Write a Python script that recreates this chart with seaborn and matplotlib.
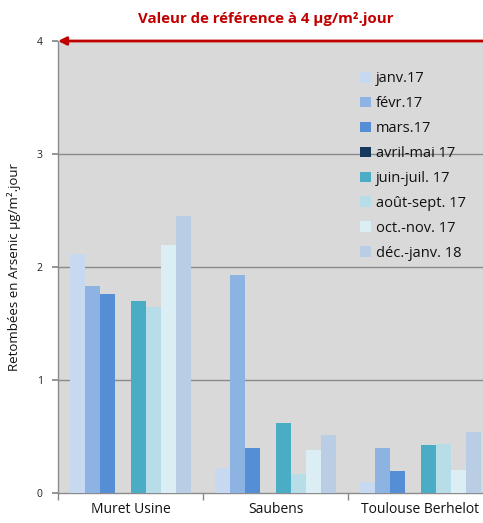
import matplotlib
matplotlib.use("Agg")
import matplotlib.pyplot as plt
import matplotlib.patches as mpatches
import pandas as pd
import seaborn as sns

# Sampling sites and campaign periods
sites = ["Muret Usine", "Saubens", "Toulouse Berhelot"]
periods = ["janv.17", "févr.17", "mars.17", "avril-mai 17", "juin-juil. 17",
           "août-sept. 17", "oct.-nov. 17", "déc.-janv. 18"]
colors = ["#c6d9f1", "#8db3e2", "#558ed5", "#17375e", "#4bacc6",
          "#b7dee8", "#dbeef4", "#b9cde5"]

# Arsenic deposition (µg/m².jour), one list per site, in period order
muret = [2.12, 1.83, 1.76, 0.0, 1.70, 1.65, 2.20, 2.45]
saubens = [0.22, 1.93, 0.40, 0.0, 0.62, 0.17, 0.38, 0.52]
toulouse = [0.10, 0.40, 0.20, 0.0, 0.43, 0.44, 0.21, 0.54]

reference_value = 4

rows = []
for site, vals in zip(sites, [muret, saubens, toulouse]):
    for period, v in zip(periods, vals):
        rows.append({"site": site, "period": period, "value": v})
df = pd.DataFrame(rows)

sns.set_theme(style="white")
plt.rcParams["font.family"] = ["Open Sans", "DejaVu Sans"]

fig = plt.figure(figsize=(4.83, 5.23), dpi=100)
ax = fig.add_axes([58 / 483, 29.7 / 523, 435 / 483, 452.3 / 523])
ax.set_facecolor("#d9d9d9")

sns.barplot(data=df, x="site", y="value", hue="period", order=sites,
            hue_order=periods, palette=colors, width=0.83, saturation=1,
            linewidth=0, errorbar=None, legend=False, ax=ax, zorder=3)

ax.set_xlim(-0.5, 2.5)
ax.set_ylim(0, 4)
ax.set_yticks([0, 1, 2, 3, 4])
ax.set_yticklabels(["0", "1", "2", "3", "4"], fontsize=7.5, color="#222222")
ax.tick_params(axis="y", length=4, color="#888888", pad=7, left=True)
for y in [1, 2, 3]:
    ax.axhline(y, color="#8a8a8a", linewidth=1, zorder=1)

ax.set_xticks([0, 1, 2])
ax.set_xticklabels(sites, fontsize=10, color="#111111")
ax.tick_params(axis="x", length=0, pad=6)
ax.set_xticks([-0.5, 0.5, 1.5, 2.5], minor=True)
ax.tick_params(axis="x", which="minor", length=5, color="#888888", bottom=True)
ax.set_xlabel("")
ax.set_ylabel("Retombées en Arsenic µg/m².jour", fontsize=9.5, color="#111111",
              labelpad=11)

for side in ["top", "right"]:
    ax.spines[side].set_visible(False)
for side in ["left", "bottom"]:
    ax.spines[side].set_color("#8c8c8c")
    ax.spines[side].set_linewidth(1)

# Reference value arrow along the top of the chart
ax.annotate("", xy=(-0.5, reference_value), xytext=(2.5, reference_value),
            xycoords="data", textcoords="data",
            arrowprops=dict(arrowstyle="-|>", color="#c00000", lw=2,
                            mutation_scale=12, shrinkA=0, shrinkB=0),
            annotation_clip=False, zorder=5)
fig.text(266 / 483, 1 - 19 / 523, "Valeur de référence à 4 µg/m².jour",
         color="#c00000", fontsize=10.8, fontweight="bold",
         ha="center", va="center")

handles = [mpatches.Patch(facecolor=c, edgecolor="none", label=p)
           for p, c in zip(periods, colors)]
fig.legend(handles=handles, loc="upper left",
           bbox_to_anchor=(353 / 483, 1 - 64 / 523), frameon=False,
           fontsize=10.5, handlelength=0.75, handleheight=0.75,
           handletextpad=0.3, labelspacing=0.68, borderpad=0,
           labelcolor="#111111")

fig.savefig("out.png", dpi=100)
